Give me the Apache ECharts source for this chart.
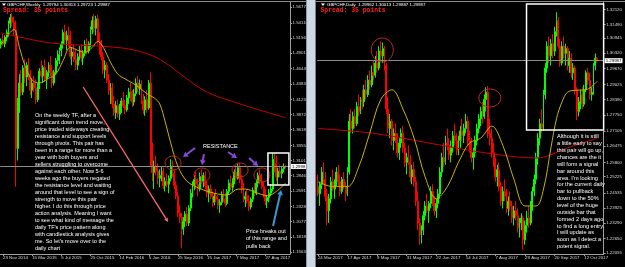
<!DOCTYPE html>
<html><head><meta charset="utf-8">
<script src="https://cdn.jsdelivr.net/npm/echarts@6.0.0/dist/echarts.min.js"></script>
<style>html,body{margin:0;padding:0;background:#000;overflow:hidden}#c{width:625px;height:267px}</style>
</head><body><div id="c"></div><script>
// ---------- DATA ----------
// weekly candles [open, high, low, close]
const weeklyOHLC = [
[1.505,1.515,1.498,1.510],[1.510,1.522,1.503,1.506],[1.506,1.520,1.500,1.517],[1.517,1.530,1.510,1.525],
[1.525,1.545,1.518,1.540],[1.540,1.556,1.532,1.550],[1.550,1.558,1.535,1.542],[1.542,1.552,1.520,1.530],
[1.530,1.545,1.266,1.330],[1.330,1.415,1.310,1.400],[1.400,1.455,1.390,1.440],[1.440,1.462,1.418,1.425],
[1.425,1.470,1.420,1.465],[1.465,1.480,1.440,1.450],[1.450,1.475,1.435,1.470],[1.470,1.482,1.445,1.455],
[1.455,1.462,1.420,1.428],[1.428,1.448,1.415,1.440],[1.440,1.452,1.425,1.432],[1.432,1.446,1.405,1.412],
[1.412,1.440,1.408,1.436],[1.436,1.465,1.430,1.460],[1.460,1.478,1.448,1.452],[1.452,1.470,1.440,1.466],
[1.466,1.480,1.442,1.447],[1.447,1.462,1.430,1.458],[1.458,1.475,1.450,1.470],[1.470,1.485,1.452,1.460],
[1.460,1.470,1.432,1.440],[1.440,1.462,1.436,1.458],[1.458,1.482,1.455,1.478],[1.478,1.495,1.468,1.488],
[1.488,1.500,1.472,1.495],[1.495,1.510,1.485,1.505],[1.505,1.530,1.498,1.525],[1.525,1.538,1.505,1.512],
[1.512,1.528,1.495,1.520],[1.520,1.535,1.500,1.505],[1.505,1.528,1.480,1.485],[1.485,1.500,1.470,1.492],
[1.492,1.505,1.475,1.480],[1.480,1.498,1.462,1.470],[1.470,1.490,1.462,1.484],[1.484,1.502,1.478,1.495],
[1.495,1.505,1.475,1.482],[1.482,1.495,1.470,1.490],[1.490,1.512,1.485,1.505],[1.505,1.515,1.488,1.494],
[1.494,1.510,1.490,1.506],[1.506,1.535,1.500,1.530],[1.530,1.552,1.522,1.545],[1.545,1.556,1.525,1.532],
[1.532,1.553,1.520,1.548],[1.548,1.555,1.505,1.510],[1.510,1.525,1.488,1.495],[1.495,1.512,1.478,1.484],
[1.484,1.492,1.455,1.462],[1.462,1.478,1.448,1.470],[1.470,1.475,1.440,1.445],[1.445,1.455,1.420,1.428],
[1.428,1.440,1.405,1.432],[1.432,1.440,1.398,1.405],[1.405,1.418,1.385,1.390],[1.390,1.410,1.380,1.402],
[1.402,1.412,1.382,1.388],[1.388,1.405,1.378,1.398],[1.398,1.415,1.390,1.410],[1.410,1.425,1.398,1.402],
[1.402,1.412,1.388,1.395],[1.395,1.420,1.392,1.415],[1.415,1.432,1.405,1.425],[1.425,1.440,1.410,1.418],
[1.418,1.428,1.400,1.408],[1.408,1.430,1.402,1.422],[1.422,1.448,1.418,1.440],[1.440,1.452,1.425,1.430],
[1.430,1.446,1.420,1.438],[1.438,1.445,1.405,1.410],[1.410,1.422,1.388,1.395],[1.395,1.418,1.385,1.412],
[1.412,1.428,1.390,1.398],[1.398,1.445,1.395,1.440],[1.440,1.458,1.300,1.325],[1.325,1.340,1.275,1.290],
[1.290,1.310,1.262,1.300],[1.300,1.318,1.285,1.292],[1.292,1.305,1.270,1.280],[1.280,1.295,1.265,1.285],
[1.285,1.300,1.275,1.292],[1.292,1.298,1.262,1.268],[1.268,1.282,1.258,1.275],[1.275,1.288,1.265,1.270],
[1.270,1.285,1.255,1.280],[1.280,1.312,1.275,1.300],[1.300,1.310,1.282,1.288],[1.288,1.295,1.262,1.268],
[1.268,1.275,1.245,1.250],[1.250,1.258,1.215,1.222],[1.222,1.235,1.205,1.215],[1.215,1.222,1.163,1.195],
[1.195,1.215,1.185,1.208],[1.208,1.225,1.198,1.220],[1.220,1.232,1.200,1.205],[1.205,1.235,1.200,1.230],
[1.230,1.262,1.225,1.255],[1.255,1.275,1.248,1.268],[1.268,1.285,1.260,1.278],[1.278,1.292,1.262,1.270],
[1.270,1.280,1.250,1.262],[1.262,1.290,1.258,1.283],[1.283,1.295,1.270,1.275],[1.275,1.290,1.265,1.285],
[1.285,1.292,1.262,1.268],[1.268,1.275,1.248,1.255],[1.255,1.268,1.240,1.262],[1.262,1.270,1.245,1.250],
[1.250,1.258,1.232,1.240],[1.240,1.255,1.235,1.250],[1.250,1.262,1.240,1.245],[1.245,1.252,1.228,1.235],
[1.235,1.245,1.222,1.240],[1.240,1.258,1.235,1.252],[1.252,1.262,1.240,1.245],[1.245,1.255,1.232,1.238],
[1.238,1.262,1.235,1.258],[1.258,1.278,1.252,1.272],[1.272,1.285,1.260,1.265],[1.265,1.280,1.258,1.276],
[1.276,1.295,1.270,1.290],[1.290,1.302,1.275,1.280],[1.280,1.306,1.278,1.298],[1.298,1.306,1.272,1.278],
[1.278,1.285,1.255,1.262],[1.262,1.272,1.240,1.245],[1.245,1.258,1.232,1.250],[1.250,1.262,1.238,1.242],
[1.242,1.252,1.225,1.232],[1.232,1.248,1.228,1.245],[1.245,1.265,1.240,1.260],[1.260,1.272,1.250,1.255],
[1.255,1.278,1.252,1.272],[1.272,1.290,1.265,1.285],[1.285,1.295,1.270,1.275],[1.275,1.288,1.262,1.266],
[1.266,1.275,1.248,1.255],[1.255,1.262,1.235,1.242],[1.242,1.252,1.230,1.248],[1.248,1.262,1.240,1.255],
[1.255,1.270,1.250,1.262],[1.262,1.322,1.258,1.312],[1.312,1.322,1.290,1.305],[1.305,1.318,1.275,1.282],
[1.282,1.298,1.270,1.292],[1.292,1.302,1.282,1.288],[1.288,1.300,1.280,1.296],[1.296,1.305,1.290,1.300],
[1.300,1.303,1.297,1.2999]
];
// weekly moving averages [barIndex, value]
const weeklyMASlow = [[0,1.524],[28,1.507],[54,1.502],[72,1.496],[87,1.480],[111,1.428],[131,1.405],[156,1.382]];
const weeklyMAFast = [[0,1.505],[4,1.522],[7,1.530],[10,1.500],[13,1.470],[17,1.445],[21,1.440],[26,1.448],[30,1.455],
 [34,1.478],[38,1.500],[42,1.495],[46,1.492],[50,1.500],[53,1.510],[56,1.500],[60,1.475],[64,1.455],[68,1.447],
 [72,1.440],[76,1.432],[80,1.422],[84,1.415],[87,1.405],[90,1.375],[93,1.340],[97,1.300],[102,1.275],[109,1.263],
 [117,1.255],[124,1.252],[130,1.262],[134,1.262],[140,1.256],[146,1.251],[151,1.258],[156,1.272]];
const weeklyTickIdx = [1,17,33,49,65,81,97,113,129,145];
const weeklyTickLabels = ['23 Nov 2014','15 Mar 2015','5 Jul 2015','25 Oct 2015','14 Feb 2016','5 Jun 2016','25 Sep 2016','15 Jan 2017','7 May 2017','27 Aug 2017'];
const weeklyPriceLabels = ['1.56775','1.54110','1.51560','1.49010','1.46440','1.43835','1.41235','1.38720','1.36185','1.33550','1.31010','1.28460','1.25910','1.23285','1.20770','1.18185','1.15635'];

// daily candles [open, high, low, close]
const dailyOHLC = [
[1.2480,1.2530,1.2440,1.2450],[1.2450,1.2500,1.2400,1.2490],[1.2490,1.2560,1.2470,1.2540],[1.2540,1.2580,1.2490,1.2510],
[1.2510,1.2540,1.2420,1.2440],[1.2440,1.2470,1.2320,1.2380],[1.2380,1.2450,1.2330,1.2430],[1.2430,1.2520,1.2410,1.2500],
[1.2500,1.2550,1.2460,1.2470],[1.2470,1.2510,1.2430,1.2490],[1.2490,1.2560,1.2480,1.2540],[1.2540,1.2570,1.2480,1.2500],
[1.2500,1.2530,1.2440,1.2460],[1.2460,1.2520,1.2450,1.2510],[1.2510,1.2540,1.2470,1.2480],[1.2480,1.2500,1.2420,1.2450],
[1.2450,1.2560,1.2440,1.2540],[1.2540,1.2780,1.2530,1.2750],[1.2750,1.2800,1.2700,1.2720],[1.2720,1.2790,1.2700,1.2770],
[1.2770,1.2800,1.2720,1.2740],[1.2740,1.2830,1.2730,1.2810],[1.2810,1.2860,1.2770,1.2790],[1.2790,1.2850,1.2780,1.2840],
[1.2840,1.2880,1.2800,1.2830],[1.2830,1.2900,1.2810,1.2880],[1.2880,1.2920,1.2840,1.2860],[1.2860,1.2940,1.2850,1.2920],
[1.2920,1.2960,1.2880,1.2900],[1.2900,1.2980,1.2890,1.2950],[1.2950,1.3000,1.2920,1.2940],[1.2940,1.3020,1.2930,1.2990],
[1.2990,1.3040,1.2950,1.2970],[1.2970,1.3060,1.2960,1.3040],[1.3040,1.3080,1.3000,1.3020],[1.3020,1.3075,1.2990,1.3050],
[1.3050,1.3060,1.2960,1.2980],[1.2980,1.2990,1.2780,1.2800],[1.2800,1.2850,1.2700,1.2720],[1.2720,1.2780,1.2680,1.2750],
[1.2750,1.2760,1.2650,1.2670],[1.2670,1.2720,1.2630,1.2700],[1.2700,1.2740,1.2660,1.2680],[1.2680,1.2700,1.2600,1.2620],
[1.2620,1.2680,1.2590,1.2660],[1.2660,1.2720,1.2640,1.2700],[1.2700,1.2730,1.2620,1.2640],[1.2640,1.2660,1.2560,1.2580],
[1.2580,1.2620,1.2530,1.2600],[1.2600,1.2650,1.2570,1.2580],[1.2580,1.2610,1.2500,1.2520],[1.2520,1.2570,1.2490,1.2550],
[1.2550,1.2580,1.2480,1.2500],[1.2500,1.2520,1.2400,1.2420],[1.2420,1.2460,1.2300,1.2330],[1.2330,1.2350,1.2240,1.2280],
[1.2280,1.2320,1.2245,1.2300],[1.2300,1.2380,1.2280,1.2360],[1.2360,1.2420,1.2340,1.2400],[1.2400,1.2450,1.2370,1.2380],
[1.2380,1.2420,1.2330,1.2410],[1.2410,1.2480,1.2390,1.2460],[1.2460,1.2490,1.2400,1.2420],[1.2420,1.2440,1.2360,1.2380],
[1.2380,1.2430,1.2350,1.2410],[1.2410,1.2470,1.2390,1.2450],[1.2450,1.2560,1.2430,1.2540],[1.2540,1.2620,1.2520,1.2600],
[1.2600,1.2660,1.2560,1.2580],[1.2580,1.2690,1.2570,1.2660],[1.2660,1.2720,1.2630,1.2650],[1.2650,1.2680,1.2590,1.2610],
[1.2610,1.2670,1.2580,1.2640],[1.2640,1.2710,1.2620,1.2690],[1.2690,1.2740,1.2650,1.2670],[1.2670,1.2700,1.2610,1.2630],
[1.2630,1.2690,1.2610,1.2670],[1.2670,1.2730,1.2640,1.2710],[1.2710,1.2760,1.2670,1.2690],[1.2690,1.2740,1.2660,1.2720],
[1.2720,1.2780,1.2700,1.2750],[1.2750,1.2770,1.2650,1.2670],[1.2670,1.2710,1.2620,1.2640],[1.2640,1.2680,1.2580,1.2600],
[1.2600,1.2640,1.2550,1.2620],[1.2620,1.2690,1.2600,1.2670],[1.2670,1.2740,1.2650,1.2720],[1.2720,1.2780,1.2700,1.2760],
[1.2760,1.2810,1.2730,1.2790],[1.2790,1.2830,1.2740,1.2770],[1.2770,1.2860,1.2760,1.2840],[1.2840,1.2890,1.2790,1.2870],
[1.2870,1.2895,1.2680,1.2700],[1.2700,1.2760,1.2650,1.2680],[1.2680,1.2720,1.2600,1.2620],[1.2620,1.2660,1.2560,1.2580],
[1.2580,1.2600,1.2500,1.2520],[1.2520,1.2570,1.2480,1.2550],[1.2550,1.2580,1.2460,1.2480],[1.2480,1.2500,1.2400,1.2420],
[1.2420,1.2480,1.2390,1.2460],[1.2460,1.2510,1.2420,1.2440],[1.2440,1.2470,1.2370,1.2390],[1.2390,1.2440,1.2360,1.2420],
[1.2420,1.2460,1.2380,1.2400],[1.2400,1.2420,1.2330,1.2350],[1.2350,1.2400,1.2320,1.2380],[1.2380,1.2420,1.2340,1.2360],
[1.2360,1.2390,1.2290,1.2310],[1.2310,1.2350,1.2270,1.2330],[1.2330,1.2370,1.2300,1.2350],[1.2350,1.2360,1.2220,1.2260],
[1.2260,1.2340,1.2240,1.2320],[1.2320,1.2380,1.2290,1.2350],[1.2350,1.2400,1.2310,1.2330],[1.2330,1.2420,1.2320,1.2400],
[1.2400,1.2480,1.2380,1.2460],[1.2460,1.2530,1.2440,1.2510],[1.2510,1.2620,1.2490,1.2600],[1.2600,1.2700,1.2570,1.2680],
[1.2680,1.2760,1.2650,1.2740],[1.2740,1.2800,1.2700,1.2720],[1.2720,1.2880,1.2710,1.2860],[1.2860,1.2990,1.2840,1.2970],
[1.2970,1.3080,1.2950,1.3060],[1.3060,1.3100,1.2990,1.3020],[1.3020,1.3090,1.2980,1.3070],[1.3070,1.3110,1.3010,1.3040],
[1.3040,1.3140,1.3020,1.3120],[1.3120,1.3200,1.3100,1.3165],[1.3165,1.3180,1.3050,1.3060],[1.3060,1.3090,1.2975,1.2990],
[1.2990,1.3080,1.2980,1.3060],[1.3060,1.3100,1.3010,1.3030],[1.3030,1.3070,1.2980,1.3050],[1.3050,1.3060,1.2960,1.2980],
[1.2980,1.3040,1.2950,1.3010],[1.3010,1.3030,1.2930,1.2950],[1.2950,1.2990,1.2920,1.2970],[1.2970,1.2980,1.2860,1.2880],
[1.2880,1.2890,1.2755,1.2790],[1.2790,1.2850,1.2770,1.2830],[1.2830,1.2880,1.2800,1.2860],[1.2860,1.2890,1.2800,1.2820],
[1.2820,1.2900,1.2810,1.2880],[1.2880,1.2960,1.2870,1.2950],[1.2950,1.2970,1.2900,1.2920],[1.2920,1.2950,1.2840,1.2860],
[1.2860,1.2890,1.2835,1.2870],[1.2870,1.2990,1.2860,1.2980],[1.2980,1.3030,1.2960,1.3010],[1.3010,1.3015,1.2990,1.29987]
];
const dailyMASlow = [[0,1.2720],[30,1.2700],[60,1.2660],[90,1.2620],[118,1.2598],[135,1.2640],[151,1.2680]];
const dailyMAFast = [[0,1.2500],[8,1.2480],[16,1.2480],[22,1.2560],[28,1.2700],[34,1.2840],[40,1.2880],[46,1.2800],
 [52,1.2680],[58,1.2520],[64,1.2430],[70,1.2480],[76,1.2580],[82,1.2660],[88,1.2680],[94,1.2730],[100,1.2650],
 [106,1.2510],[112,1.2400],[118,1.2400],[122,1.2470],[126,1.2640],[129,1.2760],[132,1.2830],[135,1.2870],[140,1.2878],
 [145,1.2880],[151,1.2915]];
const dailyTickIdx = [0,16,32,48,64,80,96,112,128,144];
const dailyTickLabels = ['24 Mar 2017','17 Apr 2017','9 May 2017','31 May 2017','22 Jun 2017','14 Jul 2017','7 Aug 2017','29 Aug 2017','20 Sep 2017','12 Oct 2017'];
const dailyPriceLabels = ['1.32120','1.31490','1.30945','1.30320','1.29670','1.29025','1.28390','1.27750','1.27105','1.26475','1.25800','1.25225','1.24535','1.23925','1.23290','1.22650','1.22055'];

const lastPrice = 1.29987;

// annotations in data coordinates [barIndex, price]
const leftCircles = [[94.3,1.3058],[110.2,1.2856],[131.1,1.2940],[143.1,1.2856]];
const leftBox = [[146.4,1.3226],[157.9,1.2688]];
const resistanceArrows = [[[106.4,1.3309],[99.8,1.3158]],[[111.3,1.3208],[110.2,1.3024]],[[124.5,1.3242],[129.4,1.3141]],[[136.0,1.3141],[141.0,1.3007]]];
const trendArrow = [[45.0,1.4334],[91.6,1.2067]];
const breakArrow = [[149.2,1.2000],[153.6,1.2604]];
const rightCircles = [[34.8,1.3044,11,12],[93.0,1.2846,11,9]];
const rightBox = [[112.8,1.3234],[154.5,1.2714]];

const leftNote = ["On the weekly TF, after a","significant down trend move,","price traded sideways creating","resistance and support levels","through pivots. This pair has","been in a range for more than a","year with both buyers and","sellers struggling to overcome","against each other. Now 5-6","weeks ago the buyers negated","the resistance level and waiting","around that level to see a sign of","strength to move this pair","higher. I do this through price","action analysis. Meaning I want","to see what kind of message the","daily TF's price pattern along","with candlestick analysis gives","me. So let's move over to the","daily chart"];
const rightNote = ["Although it is still","a little early to say","this pair will go up,","chances are the it","will form a signal","bar around this","area. I'm looking","for the current daily","bar to pullback","down to the 50%","level of the huge","outside bar that","formed 2 days ago","to find a long entry.","I will update as","soon as I detect a","potent signal."];
const breakNote = ["Price breaks out","of this range and","pulls back"];

// ---------- CHART ----------
const chart = echarts.init(document.getElementById('c'), null, {renderer:'canvas', width:625, height:267});
const axisColor = '#a0a0a0', textColor = '#d8d8d8';
const FONT = '"Liberation Sans", Arial, sans-serif';

function xAx(g, n, idx, labels){
  return {type:'category', gridIndex:g, data:Array.from({length:n},(_,k)=>String(k)), boundaryGap:true,
    axisLine:{show:true, lineStyle:{color:axisColor, width:1}},
    axisTick:{show:true, length:2, alignWithLabel:true, interval:(k)=>idx.includes(k), lineStyle:{color:axisColor}},
    axisLabel:{show:true, interval:(k)=>idx.includes(k), formatter:(v)=>labels[idx.indexOf(Number(v))] || '',
      color:textColor, fontSize:4.4, fontFamily:FONT, align:'left', margin:2},
    splitLine:{show:false}};
}
function yAx(g, mn, mx, labels){
  const vals = labels.map(Number);
  return {type:'value', gridIndex:g, position:'right', min:mn, max:mx, scale:true,
    axisLine:{show:true, lineStyle:{color:axisColor, width:1}},
    axisTick:{show:true, length:2, customValues:vals, lineStyle:{color:axisColor}},
    axisLabel:{show:true, customValues:vals, formatter:(v)=>v.toFixed(5), color:textColor, fontSize:4.4, fontFamily:FONT, margin:2.5},
    splitLine:{show:false}};
}
const toEC = d => [d[0], d[3], d[2], d[1]];
function candles(g, data){
  return {type:'candlestick', xAxisIndex:g, yAxisIndex:g, data:data.map(toEC), barWidth:1.4, z:2,
    itemStyle:{color:'#00ff00', color0:'#ff0000', borderColor:'#00ff00', borderColor0:'#ff0000', borderWidth:1},
    markLine:{silent:true, symbol:'none', animation:false, data:[{yAxis:lastPrice}],
      lineStyle:{color:'#8c8c8c', type:'solid', width:1},
      label:{show:true, position:'end', distance:1, formatter:lastPrice.toFixed(5), color:'#000', backgroundColor:'#ffffff',
        fontSize:4.4, fontFamily:FONT, padding:[0.5,1]}}};
}
function maLine(g, data, color){
  return {type:'line', xAxisIndex:g, yAxisIndex:g, data:data, smooth:0.35, showSymbol:false, z:3,
    lineStyle:{color:color, width:1}};
}

chart.setOption({
  animation:false, backgroundColor:'#000000',
  grid:[{left:0, top:2, width:290, height:252}, {left:317, top:2, width:290, height:252}],
  xAxis:[xAx(0,159,weeklyTickIdx,weeklyTickLabels), xAx(1,155,dailyTickIdx,dailyTickLabels)],
  yAxis:[yAx(0,1.1530,1.5761,weeklyPriceLabels), yAx(1,1.22016,1.32424,dailyPriceLabels)],
  series:[candles(0,weeklyOHLC), maLine(0,weeklyMASlow,'#c80000'), maLine(0,weeklyMAFast,'#c8b400'),
          candles(1,dailyOHLC), maLine(1,dailyMASlow,'#c80000'), maLine(1,dailyMAFast,'#c8b400')]
});

// ---------- ANNOTATIONS ----------
function toPx(g, i, p){
  const f = Math.floor(i);
  const a = chart.convertToPixel({xAxisIndex:g, yAxisIndex:g}, [f, p]);
  const b = chart.convertToPixel({xAxisIndex:g, yAxisIndex:g}, [f+1, p]);
  return [a[0] + (i-f)*(b[0]-a[0]), a[1]];
}
function arrow(p0, p1, color, w, hl, hw){
  const dx = p1[0]-p0[0], dy = p1[1]-p0[1], L = Math.hypot(dx,dy), ux = dx/L, uy = dy/L;
  const bx = p1[0]-ux*hl, by = p1[1]-uy*hl;
  return [
    {type:'line', shape:{x1:p0[0], y1:p0[1], x2:bx, y2:by}, style:{stroke:color, lineWidth:w}, z:20},
    {type:'polygon', shape:{points:[[p1[0],p1[1]],[bx-uy*hw,by+ux*hw],[bx+uy*hw,by-ux*hw]]}, style:{fill:color}, z:20}
  ];
}
function textBlock(x, y, lines, lh, size){
  return {type:'text', x:x, y:y, z:30, style:{text:lines.join('\n'), fill:'#ffffff', fontSize:size, fontFamily:FONT,
    lineHeight:lh, verticalAlign:'top', align:'left'}};
}
const G = [];
// window frame
G.push({type:'rect', shape:{x:306, y:0, width:10, height:267}, style:{fill:'#cdd9e7'}, z:10});
G.push({type:'line', shape:{x1:306.5, y1:0, x2:306.5, y2:267}, style:{stroke:'#8e9aa8', lineWidth:1}, z:10});
G.push({type:'line', shape:{x1:315.5, y1:0, x2:315.5, y2:267}, style:{stroke:'#808080', lineWidth:1}, z:10});
G.push({type:'line', shape:{x1:0, y1:1.5, x2:306, y2:1.5}, style:{stroke:'#8a8a8a', lineWidth:1}, z:10});
G.push({type:'line', shape:{x1:316, y1:1.5, x2:625, y2:1.5}, style:{stroke:'#8a8a8a', lineWidth:1}, z:10});
// headers
G.push({type:'polygon', shape:{points:[[2,3.5],[6,3.5],[4,6]]}, style:{fill:'#fff'}, z:30});
G.push({type:'text', x:7, y:5, z:30, style:{text:'GBPCHF,Weekly  1.29794 1.30313 1.29723 1.29987', fill:'#ffffff', fontSize:4.4, fontFamily:FONT, verticalAlign:'middle'}});
G.push({type:'text', x:3, y:10.8, z:30, style:{text:'Spread: 35 points', fill:'#ff2020', fontSize:6.4, fontFamily:'"Liberation Mono", monospace', fontWeight:'bold', verticalAlign:'middle'}});
G.push({type:'polygon', shape:{points:[[321,3.5],[325,3.5],[323,6]]}, style:{fill:'#fff'}, z:30});
G.push({type:'text', x:327, y:5, z:30, style:{text:'GBPCHF,Daily  1.29962 1.30013 1.29887 1.29987', fill:'#ffffff', fontSize:4.4, fontFamily:FONT, verticalAlign:'middle'}});
G.push({type:'text', x:320.5, y:10.8, z:30, style:{text:'Spread: 35 points', fill:'#ff2020', fontSize:6.4, fontFamily:'"Liberation Mono", monospace', fontWeight:'bold', verticalAlign:'middle'}});
// left annotations
leftCircles.forEach(c => { const p = toPx(0,c[0],c[1]);
  G.push({type:'ellipse', shape:{cx:p[0], cy:p[1], rx:8, ry:7}, style:{fill:null, stroke:'#c02828', lineWidth:1}, z:20}); });
{ const a = toPx(0,leftBox[0][0],leftBox[0][1]), b = toPx(0,leftBox[1][0],leftBox[1][1]);
  G.push({type:'rect', shape:{x:a[0], y:a[1], width:b[0]-a[0], height:b[1]-a[1]}, style:{fill:null, stroke:'#ffffff', lineWidth:1.5}, z:20}); }
resistanceArrows.forEach(ar => G.push(...arrow(toPx(0,ar[0][0],ar[0][1]), toPx(0,ar[1][0],ar[1][1]), '#8a48d8', 2, 5, 3)));
G.push(...arrow(toPx(0,trendArrow[0][0],trendArrow[0][1]), toPx(0,trendArrow[1][0],trendArrow[1][1]), '#ff6a6a', 1.3, 4, 2));
G.push(...arrow(toPx(0,breakArrow[0][0],breakArrow[0][1]), toPx(0,breakArrow[1][0],breakArrow[1][1]), '#3a98cc', 2, 5, 3));
G.push({type:'text', x:203, y:146, z:30, style:{text:'RESISTANCE', fill:'#ffffff', fontSize:5.5, fontFamily:FONT, verticalAlign:'middle'}});
G.push(textBlock(35, 111.5, leftNote, 7, 5.5));
G.push(textBlock(246, 228, breakNote, 7.2, 5.5));
// right annotations
rightCircles.forEach(c => { const p = toPx(1,c[0],c[1]);
  G.push({type:'ellipse', shape:{cx:p[0], cy:p[1], rx:c[2], ry:c[3]}, style:{fill:null, stroke:'#c02828', lineWidth:1}, z:20}); });
{ const a = toPx(1,rightBox[0][0],rightBox[0][1]), b = toPx(1,rightBox[1][0],rightBox[1][1]);
  G.push({type:'rect', shape:{x:a[0], y:a[1], width:b[0]-a[0], height:b[1]-a[1]}, style:{fill:null, stroke:'#ffffff', lineWidth:1.5}, z:20}); }
G.push(textBlock(557, 133.5, rightNote, 6.85, 5.6));

chart.setOption({graphic:G});
</script></body></html>
